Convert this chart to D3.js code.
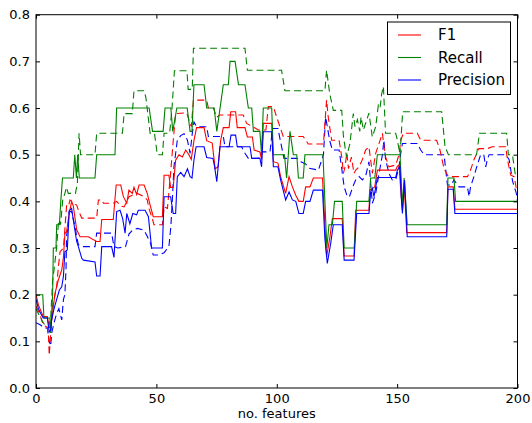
<!DOCTYPE html>
<html><head><meta charset="utf-8">
<script src="https://cdn.jsdelivr.net/npm/d3@7"></script>
<style>body{margin:0;background:#fff}svg{display:block}text{font-family:"DejaVu Sans",sans-serif}</style>
</head><body><svg id="c" width="532" height="423"></svg>
<script>
const xTicks=[0,50,100,150,200];
const yTicks=[0,0.1,0.2,0.3,0.4,0.5,0.6,0.7,0.8];
const legendLabels=["F1","Recall","Precision"];

const f1Solid=[[0,0.2],[1,0.178],[3,0.153],[4.7,0.153],[5.5,0.13],[6.1,0.13],[7.9,0.203],[9.3,0.232],[10.7,0.253],[11.4,0.28],[12,0.331],[12.7,0.335],[13.8,0.374],[14.8,0.4],[15.5,0.39],[16.9,0.339],[18.3,0.324],[21.7,0.324],[25.2,0.314],[26.6,0.314],[27.3,0.361],[32.1,0.361],[33.3,0.435],[35.2,0.435],[36.3,0.41],[37.7,0.396],[38.6,0.424],[40,0.417],[40.7,0.43],[41.8,0.415],[42.8,0.435],[44.9,0.435],[46.2,0.417],[47.4,0.392],[48.7,0.367],[52.5,0.367],[53.2,0.456],[55.2,0.456],[55.9,0.43],[57,0.43],[58,0.488],[59.4,0.5],[60.8,0.495],[62.2,0.51],[63.5,0.5],[64.5,0.49],[65.6,0.53],[66.7,0.558],[69.8,0.558],[70.9,0.53],[73.2,0.525],[74.4,0.47],[75.6,0.474],[76.7,0.53],[77.8,0.558],[80.2,0.558],[80.9,0.592],[82.9,0.592],[83.6,0.558],[86.8,0.558],[87.8,0.538],[89.9,0.538],[90.6,0.51],[93,0.506],[93.7,0.49],[94.4,0.567],[97.9,0.567],[98.6,0.485],[100.5,0.482],[101.6,0.453],[103.7,0.417],[105.1,0.453],[106.5,0.431],[107.9,0.413],[109.2,0.4],[111,0.4],[112,0.431],[113.8,0.431],[115.2,0.45],[119,0.45],[120,0.35],[120.7,0.281],[122.1,0.324],[123.1,0.363],[127.2,0.363],[128,0.283],[132.1,0.283],[132.8,0.381],[138.3,0.381],[138.7,0.424],[140.7,0.431],[141.8,0.467],[149.4,0.467],[150.1,0.475],[150.8,0.478],[151.5,0.424],[152.2,0.381],[152.9,0.439],[154,0.333],[170.6,0.333],[171.1,0.431],[173.3,0.431],[174,0.383],[200,0.383]];

const recallSolid=[[0,0.2],[2.8,0.2],[3.3,0.15],[5.8,0.15],[6.1,0.118],[6.9,0.2],[7.2,0.3],[8.3,0.3],[8.6,0.35],[9.7,0.35],[10.3,0.4],[11,0.45],[15.5,0.45],[16.1,0.5],[16.8,0.45],[17.3,0.5],[18,0.45],[24.5,0.45],[25.2,0.5],[32.8,0.5],[33.5,0.6],[47,0.6],[48.4,0.55],[52.8,0.55],[53.6,0.6],[56,0.6],[56.8,0.55],[58.5,0.6],[62.8,0.6],[64,0.55],[64.8,0.55],[65.6,0.65],[69.8,0.65],[70.9,0.6],[74,0.6],[75.1,0.55],[77.8,0.65],[79.9,0.65],[80.6,0.7],[82.7,0.7],[84.1,0.65],[86.8,0.65],[88.2,0.6],[89.6,0.6],[90.3,0.55],[93,0.55],[93.7,0.5],[94.4,0.6],[97.9,0.6],[98.6,0.5],[103.2,0.5],[104.1,0.45],[105.5,0.55],[106.9,0.5],[108.3,0.5],[109,0.45],[111,0.45],[111.7,0.5],[119.2,0.5],[120.8,0.3],[121.7,0.35],[123.1,0.35],[124,0.4],[127.2,0.4],[128,0.3],[132.2,0.3],[133.2,0.4],[138.3,0.4],[139,0.45],[140.7,0.45],[141.8,0.5],[151.2,0.5],[152.2,0.39],[152.9,0.45],[154.2,0.35],[170.6,0.35],[171.1,0.45],[173.6,0.45],[174.3,0.4],[200,0.4]];

const precisionSolid=[[0,0.19],[1,0.17],[1.9,0.16],[3,0.15],[4.7,0.15],[5.5,0.12],[6.1,0.124],[6.5,0.146],[7.5,0.17],[8.6,0.19],[9.7,0.21],[10.7,0.217],[11.4,0.24],[12,0.292],[13,0.296],[13.8,0.38],[14.8,0.385],[15.5,0.36],[16.9,0.314],[17.6,0.303],[19,0.278],[19.7,0.274],[24.5,0.27],[25.2,0.24],[26.6,0.24],[27.3,0.303],[31.4,0.303],[32.4,0.28],[33.5,0.378],[34.9,0.381],[36,0.363],[37,0.332],[37.7,0.374],[39,0.352],[40.2,0.374],[41.8,0.371],[42.5,0.381],[45.3,0.381],[46.7,0.367],[48,0.3],[52.5,0.3],[53.2,0.41],[55.9,0.41],[57,0.374],[58,0.374],[58.7,0.453],[60.1,0.462],[61.5,0.453],[62.9,0.47],[64,0.453],[64.8,0.45],[65.6,0.488],[66.5,0.517],[69.8,0.517],[70.9,0.494],[73.5,0.492],[74.2,0.474],[75.1,0.442],[76.4,0.517],[80.2,0.517],[81,0.542],[82.9,0.542],[83.6,0.517],[88.9,0.517],[89.6,0.492],[93,0.492],[93.7,0.474],[94.4,0.549],[97.9,0.549],[98.6,0.474],[100.5,0.474],[101.6,0.446],[103.7,0.403],[105.1,0.42],[106.5,0.403],[107.9,0.4],[109.2,0.374],[111,0.374],[112,0.4],[113.8,0.4],[115.2,0.424],[119,0.424],[120,0.32],[121,0.267],[122.4,0.31],[123.5,0.35],[127.2,0.35],[128,0.274],[132.1,0.274],[133.2,0.374],[138.3,0.374],[139,0.42],[139.7,0.428],[140.4,0.41],[141.8,0.451],[149.4,0.451],[150.1,0.467],[151.2,0.474],[151.7,0.41],[152.2,0.374],[153.1,0.445],[154.2,0.324],[170.6,0.324],[171.1,0.426],[173.3,0.426],[174,0.374],[200,0.374]];

const f1Dashed=[[0,0.175],[1.5,0.16],[3,0.135],[4.7,0.13],[5.2,0.11],[5.5,0.07],[6.1,0.118],[6.9,0.175],[7.9,0.2],[8.6,0.217],[9.3,0.26],[10,0.292],[11.4,0.3],[12.7,0.39],[13.4,0.388],[14.1,0.403],[15.5,0.396],[16.9,0.392],[17.6,0.381],[19,0.364],[25.2,0.364],[25.9,0.403],[27.3,0.403],[28,0.396],[32.1,0.396],[33.5,0.4],[35.2,0.39],[36.6,0.388],[38.6,0.41],[42.1,0.417],[44.9,0.41],[46.2,0.403],[46.9,0.385],[48.3,0.363],[49,0.35],[52.5,0.35],[53.2,0.388],[54.6,0.385],[55.9,0.46],[57,0.53],[58,0.588],[62.6,0.59],[63.5,0.575],[64.5,0.56],[65.4,0.617],[70.9,0.617],[71.6,0.6],[73.7,0.6],[75,0.58],[76.4,0.585],[86.1,0.585],[87.5,0.567],[92.4,0.553],[95.5,0.553],[96.5,0.603],[98.6,0.603],[100,0.58],[102.7,0.539],[111,0.539],[113.1,0.523],[119.4,0.523],[120.7,0.617],[121.4,0.58],[122.8,0.531],[125.9,0.531],[127,0.495],[127.7,0.46],[128.4,0.475],[129.1,0.504],[129.8,0.47],[131,0.495],[132.1,0.46],[132.8,0.467],[134.2,0.474],[135.6,0.49],[136.9,0.51],[138.3,0.517],[139.7,0.46],[141.1,0.503],[143.9,0.546],[144.5,0.517],[145.2,0.496],[146.6,0.474],[149.4,0.478],[150.8,0.5],[151.5,0.531],[152.6,0.546],[158.4,0.546],[159.8,0.531],[166.4,0.531],[167.8,0.51],[169.5,0.47],[171.3,0.453],[176.8,0.453],[179.2,0.453],[180.5,0.467],[181.9,0.489],[184,0.513],[187.5,0.513],[189.5,0.517],[195.1,0.517],[195.8,0.49],[197.2,0.456],[198.6,0.453],[199.4,0.431],[200,0.42]];

const recallDashed=[[0,0.17],[1.9,0.15],[3.6,0.135],[5.2,0.13],[6.1,0.15],[6.9,0.23],[7.5,0.253],[8.6,0.303],[9.3,0.353],[9.7,0.36],[10.2,0.35],[11.1,0.403],[12,0.417],[12.7,0.43],[13.4,0.417],[16.4,0.417],[17.2,0.44],[17.9,0.546],[18.5,0.5],[24.5,0.5],[25.2,0.546],[35.9,0.546],[36.6,0.588],[40,0.588],[40.7,0.637],[45,0.637],[45.7,0.62],[47.4,0.546],[49.2,0.546],[50.4,0.5],[52.5,0.5],[53.2,0.546],[55.5,0.546],[56.5,0.6],[57.5,0.68],[62.7,0.68],[63.2,0.64],[64.9,0.64],[65.4,0.728],[86.8,0.728],[87.8,0.681],[102,0.681],[103.4,0.637],[120,0.637],[120.7,0.681],[122,0.631],[123.5,0.595],[127,0.595],[127.7,0.539],[129,0.495],[130.4,0.524],[131.8,0.588],[132.5,0.56],[133.5,0.575],[134.5,0.55],[135,0.581],[136,0.553],[138.3,0.589],[139.7,0.538],[141.1,0.56],[142.2,0.606],[142.9,0.6],[143.6,0.631],[144.3,0.646],[145.2,0.546],[149.4,0.546],[150.1,0.531],[151.2,0.5],[152.3,0.592],[168.5,0.592],[169.9,0.517],[171.3,0.5],[183,0.5],[184.2,0.546],[195.5,0.546],[196.2,0.5],[197.9,0.5],[199,0.46],[200,0.45]];

const precisionDashed=[[0,0.14],[1.9,0.135],[3,0.13],[4.7,0.128],[5.5,0.1],[6.1,0.09],[6.5,0.117],[7.5,0.14],[8.6,0.16],[9.5,0.17],[10.7,0.146],[11.4,0.19],[12,0.2],[12.5,0.26],[12.7,0.325],[13.4,0.353],[13.8,0.378],[14.8,0.378],[16.2,0.346],[16.9,0.325],[17.6,0.307],[19,0.303],[24.5,0.303],[25.2,0.332],[31.4,0.332],[32.4,0.303],[34,0.3],[37.2,0.303],[38.6,0.33],[40,0.338],[42.1,0.342],[44.9,0.338],[46.2,0.325],[47.6,0.31],[48.7,0.285],[51,0.285],[53.2,0.29],[55.2,0.303],[56,0.345],[56.6,0.4],[57.3,0.474],[58.7,0.531],[60.1,0.541],[61.5,0.545],[62.9,0.531],[64,0.503],[64.9,0.545],[65.6,0.57],[66.7,0.56],[70.9,0.56],[71.6,0.539],[77.8,0.539],[78.5,0.517],[85.4,0.517],[86.8,0.503],[88.2,0.492],[92.4,0.492],[93.7,0.506],[97.2,0.506],[98.2,0.556],[100.5,0.556],[101.5,0.53],[103,0.492],[108.5,0.492],[110,0.485],[112,0.48],[113.4,0.471],[117.3,0.467],[119.4,0.5],[120.3,0.581],[121,0.56],[122,0.53],[123.1,0.51],[125.9,0.51],[127,0.47],[128,0.431],[129.3,0.41],[130.2,0.41],[131.5,0.43],[132.8,0.446],[134.2,0.453],[135.6,0.446],[137,0.456],[138.3,0.485],[139.7,0.396],[141.1,0.417],[142.5,0.46],[143.9,0.5],[144.5,0.531],[145.2,0.49],[146.6,0.46],[148,0.446],[149.4,0.446],[150.1,0.46],[150.8,0.474],[151.5,0.503],[152.2,0.524],[158.4,0.524],[159.8,0.51],[161.2,0.5],[169.5,0.5],[170.2,0.467],[170.9,0.435],[172.5,0.435],[173.6,0.446],[175.7,0.431],[179.2,0.431],[179.9,0.41],[180.5,0.431],[181.9,0.453],[183.3,0.478],[184.7,0.5],[186,0.5],[186.8,0.474],[187.5,0.49],[188.2,0.5],[195.1,0.5],[196.5,0.49],[197.9,0.445],[198.6,0.431],[199.4,0.42],[200,0.4]];

const svg=d3.select("#c");
const L=36,R=517.5,T=14.7,B=388;
const x=d3.scaleLinear().domain([0,200]).range([L,R]);
const y=d3.scaleLinear().domain([0,0.8]).range([B,T]);

svg.append("defs").append("clipPath").attr("id","clip").append("rect")
  .attr("x",L).attr("y",T).attr("width",R-L).attr("height",B-T);

const line=d3.line().x(d=>x(d[0])).y(d=>y(d[1]));
const series=[
  {d:precisionDashed,c:"#0000ff",dash:true},
  {d:f1Dashed,c:"#ff0000",dash:true},
  {d:recallDashed,c:"#008000",dash:true},
  {d:f1Solid,c:"#ff0000",dash:false},
  {d:recallSolid,c:"#008000",dash:false},
  {d:precisionSolid,c:"#0000ff",dash:false}
];
const g=svg.append("g").attr("clip-path","url(#clip)");
series.forEach(s=>{
  g.append("path").datum(s.d).attr("d",line).attr("fill","none")
   .attr("stroke",s.c).attr("stroke-width",1.1)
   .attr("stroke-dasharray",s.dash?"7,4":null);
});

function style(sel){sel.select(".domain").remove();sel.selectAll("line").attr("stroke","#000");
  sel.selectAll("text").attr("font-size","13px").attr("fill","#000").attr("font-family","DejaVu Sans");}
svg.append("g").attr("transform",`translate(0,${B})`)
  .call(d3.axisBottom(x).tickValues(xTicks).tickFormat(d3.format("d")).tickSizeInner(-4).tickSizeOuter(0).tickPadding(6)).call(style);
svg.append("g").attr("transform",`translate(0,${T})`)
  .call(d3.axisTop(x).tickValues(xTicks).tickFormat("").tickSizeInner(-4).tickSizeOuter(0)).call(style);
svg.append("g").attr("transform",`translate(${L},0)`)
  .call(d3.axisLeft(y).tickValues(yTicks).tickFormat(d3.format(".1f")).tickSizeInner(-4).tickSizeOuter(0).tickPadding(6)).call(style);
svg.append("g").attr("transform",`translate(${R},0)`)
  .call(d3.axisRight(y).tickValues(yTicks).tickFormat("").tickSizeInner(-4).tickSizeOuter(0)).call(style);

svg.append("rect").attr("x",L).attr("y",T).attr("width",R-L).attr("height",B-T)
  .attr("fill","none").attr("stroke","#000").attr("stroke-width",1);

svg.append("text").attr("x",(L+R)/2).attr("y",418).attr("text-anchor","middle")
  .attr("font-size","13px").text("no. features");

// legend
const lg=svg.append("g");
lg.append("rect").attr("x",387.5).attr("y",22).attr("width",123).attr("height",72.5)
  .attr("fill","#fff").attr("stroke","#000").attr("stroke-width",1);
const legColors=["#ff0000","#008000","#0000ff"];
legendLabels.forEach((t,i)=>{
  const yy=35+i*22.5;
  lg.append("line").attr("x1",398).attr("x2",421).attr("y1",yy).attr("y2",yy)
    .attr("stroke",legColors[i]).attr("stroke-width",1.1);
  lg.append("text").attr("x",438).attr("y",yy).attr("dy","0.36em")
    .attr("font-size","15px").text(t);
});
</script></body></html>
